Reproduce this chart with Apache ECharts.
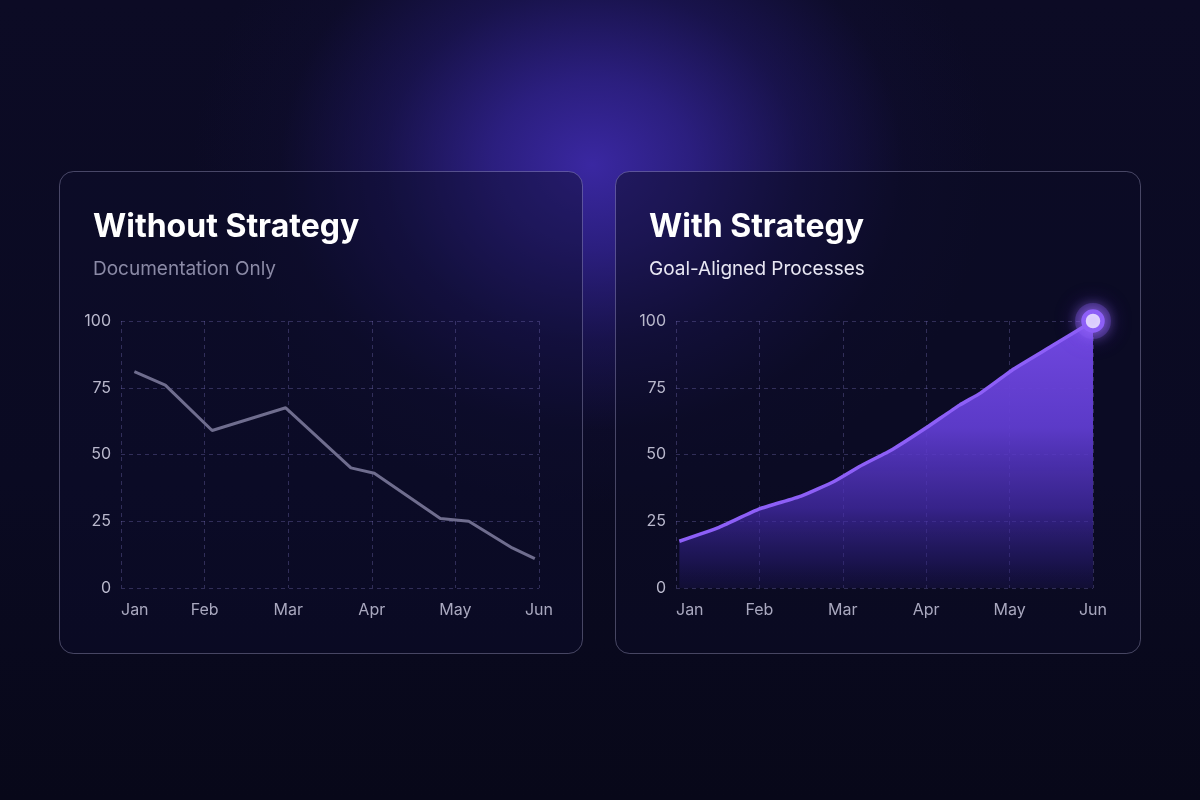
<!DOCTYPE html>
<html>
<head>
<meta charset="utf-8">
<script src="https://cdn.jsdelivr.net/npm/echarts@6/dist/echarts.min.js"></script>
<style>
  html, body { margin: 0; padding: 0; background: #09091d; }
  #chart {
    width: 1200px; height: 800px;
    background:
      radial-gradient(ellipse 400px 340px at 592px 165px, rgba(62,42,172,0.92) 0%, rgba(52,36,152,0.78) 25%, rgba(36,26,112,0.52) 52%, rgba(20,16,62,0.22) 78%, rgba(12,11,36,0) 100%),
      linear-gradient(180deg, #0c0b25 0%, #0a0a22 60%, #080819 100%);
  }
</style>
</head>
<body>
<div id="chart"></div>
<script>
// ---- data ----
const months = ['Jan', 'Feb', 'Mar', 'Apr', 'May', 'Jun'];
const yTicks = [0, 25, 50, 75, 100];

// "Without Strategy" series: positions along month axis (0 = Jan … 5 = Jun) and values
const withoutX = [0.16, 0.53, 1.09, 1.97, 2.75, 3.03, 3.82, 4.16, 4.68, 4.95];
const withoutY = [81, 76, 59, 67.5, 45, 43, 26, 25, 15, 11];

// "With Strategy" series
const withX = [0.04, 0.5, 1.0, 1.5, 1.9, 2.2, 2.6, 3.0, 3.4, 3.65, 4.05, 4.5, 5.0];
const withY = [17.5, 22.5, 29.6, 34.4, 40, 45.5, 52, 60, 68.5, 73, 82, 90.5, 100];

const titles = ['Without Strategy', 'With Strategy'];
const subtitles = ['Documentation Only', 'Goal-Aligned Processes'];

// ---- build ----
const pairs = (xs, ys) => xs.map((x, i) => [x, ys[i]]);
const FONT = 'Inter';

function xAxis(gridIndex) {
  return {
    type: 'value', gridIndex, min: 0, max: months.length - 1, interval: 1,
    axisLine: { show: false }, axisTick: { show: false },
    axisLabel: {
      color: '#a9a8bf', fontFamily: FONT, fontSize: 16, margin: 14,
      alignMinLabel: 'left',
      formatter: v => months[Math.round(v)] || ''
    },
    splitLine: { show: true, lineStyle: { color: 'rgba(130,120,200,0.32)', type: [4, 4], width: 1 } }
  };
}
function yAxis(gridIndex) {
  return {
    type: 'value', gridIndex, min: yTicks[0], max: yTicks[yTicks.length - 1],
    interval: yTicks[1] - yTicks[0],
    axisLine: { show: false }, axisTick: { show: false },
    axisLabel: { color: '#b9b8cc', fontFamily: FONT, fontSize: 16, margin: 10 },
    splitLine: { show: true, lineStyle: { color: 'rgba(130,120,200,0.32)', type: [4, 4], width: 1 } }
  };
}

const withData = pairs(withX, withY);
const last = withData[withData.length - 1];

const chart = echarts.init(document.getElementById('chart'), null, { renderer: 'canvas' });
chart.setOption({
  backgroundColor: 'transparent',
  animation: false,
  graphic: [
    { type: 'rect', shape: { x: 59.5, y: 171.5, width: 523, height: 482, r: 14 },
      style: { fill: 'rgba(14,13,44,0.45)', stroke: 'rgba(190,185,225,0.35)', lineWidth: 1 }, z: -10 },
    { type: 'rect', shape: { x: 615.5, y: 171.5, width: 525, height: 482, r: 14 },
      style: { fill: 'rgba(12,11,38,0.5)', stroke: 'rgba(190,185,225,0.35)', lineWidth: 1 }, z: -10 }
  ],
  title: [
    { text: titles[0], left: 93, top: 211, padding: 0,
      textStyle: { color: '#ffffff', fontFamily: FONT, fontSize: 32, fontWeight: 700 } },
    { text: subtitles[0], left: 93, top: 260, padding: 0,
      textStyle: { color: '#8b8aa6', fontFamily: FONT, fontSize: 19, fontWeight: 400 } },
    { text: titles[1], left: 649, top: 211, padding: 0,
      textStyle: { color: '#ffffff', fontFamily: FONT, fontSize: 32, fontWeight: 700 } },
    { text: subtitles[1], left: 649, top: 260, padding: 0,
      textStyle: { color: '#e8e7f3', fontFamily: FONT, fontSize: 19, fontWeight: 400 } }
  ],
  grid: [
    { left: 121, right: 1200 - 539, top: 321, bottom: 800 - 588 },
    { left: 676, right: 1200 - 1093, top: 321, bottom: 800 - 588 }
  ],
  xAxis: [xAxis(0), xAxis(1)],
  yAxis: [yAxis(0), yAxis(1)],
  series: [
    {
      type: 'line', xAxisIndex: 0, yAxisIndex: 0,
      data: pairs(withoutX, withoutY),
      symbol: 'none',
      lineStyle: { color: '#6f6d8e', width: 3 }
    },
    {
      type: 'line', xAxisIndex: 1, yAxisIndex: 1,
      data: withData,
      symbol: 'none', smooth: 0.15,
      lineStyle: { color: '#8d5ff7', width: 3.5 },
      areaStyle: {
        opacity: 1,
        color: new echarts.graphic.LinearGradient(0, 0, 0, 1, [
          { offset: 0, color: 'rgba(114,72,226,1)' },
          { offset: 0.4, color: 'rgba(98,62,212,0.93)' },
          { offset: 0.7, color: 'rgba(74,46,182,0.7)' },
          { offset: 0.9, color: 'rgba(48,32,135,0.45)' },
          { offset: 1, color: 'rgba(32,23,95,0.3)' }
        ])
      },
      z: 3
    },
    {
      type: 'scatter', xAxisIndex: 1, yAxisIndex: 1,
      data: [last],
      symbol: 'circle', symbolSize: 36,
      silent: true,
      itemStyle: {
        color: 'rgba(139,92,246,0.28)', opacity: 1,
        shadowBlur: 22, shadowColor: 'rgba(139,92,246,0.9)'
      },
      z: 4
    },
    {
      type: 'scatter', xAxisIndex: 1, yAxisIndex: 1,
      data: [last],
      symbol: 'circle', symbolSize: 19,
      itemStyle: {
        color: '#ffffff', borderColor: '#8d5ff7', borderWidth: 4.5, opacity: 1,
        shadowBlur: 16, shadowColor: 'rgba(150,105,250,1)'
      },
      z: 5
    }
  ]
});
</script>
</body>
</html>
